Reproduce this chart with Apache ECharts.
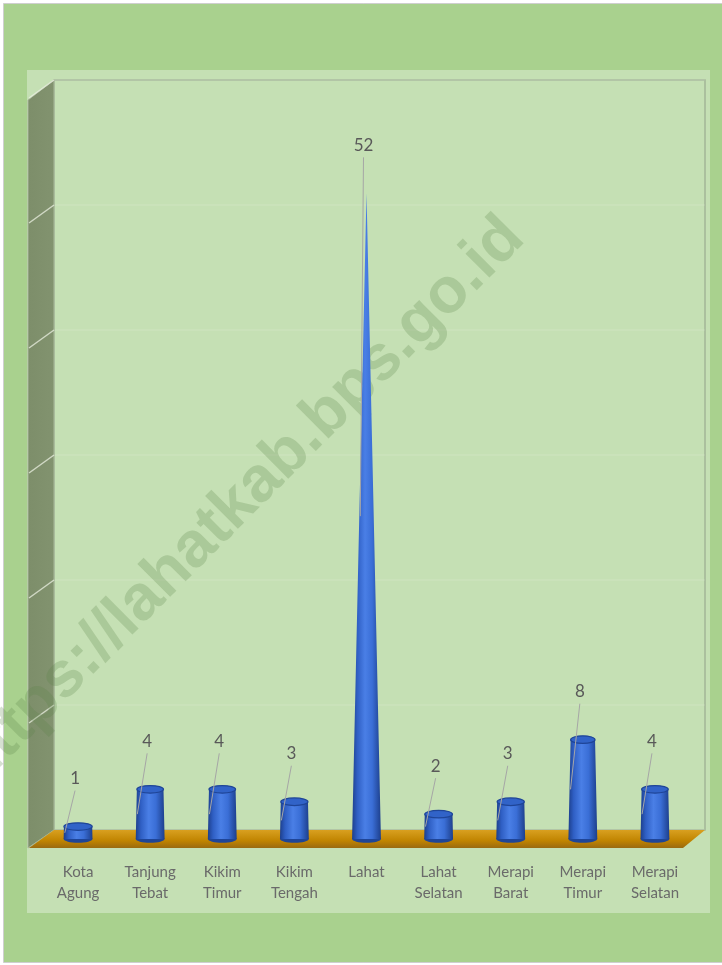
<!DOCTYPE html>
<html>
<head>
<meta charset="utf-8">
<script src="https://cdn.jsdelivr.net/npm/echarts@6/dist/echarts.min.js"></script>
<style>
html,body{margin:0;padding:0;background:#ffffff;}
#chart{width:722px;height:965px;}
</style>
</head>
<body>
<div id="chart"></div>
<script>
// ---- data ----
const categories = ['Kota\nAgung','Tanjung\nTebat','Kikim\nTimur','Kikim\nTengah','Lahat','Lahat\nSelatan','Merapi\nBarat','Merapi\nTimur','Merapi\nSelatan'];
const values = [1, 4, 4, 3, 52, 2, 3, 8, 4];
const axisMin = 0;
const axisMax = 60;
const axisInterval = 10;
const watermark = 'https://lahatkab.bps.go.id';

const coneMax = Math.max.apply(null, values);
const chart = echarts.init(document.getElementById('chart'), null, {renderer: 'canvas'});

const barGradient = {
  type: 'linear', x: 0, y: 0, x2: 1, y2: 0,
  colorStops: [
    {offset: 0, color: '#1d3f8c'},
    {offset: 0.18, color: '#2f5fc4'},
    {offset: 0.45, color: '#4a7fe6'},
    {offset: 0.7, color: '#3a6ed6'},
    {offset: 1, color: '#1d3f8c'}
  ]
};

function renderBar(params, api) {
  const idx = api.value(0);
  const v = api.value(1);
  const base = api.coord([idx, 0]);
  const top = api.coord([idx, v]);
  const band = api.size([1, 0])[0];
  const hw0 = band * 0.2;
  const hw1 = hw0 * (1 - v / coneMax);
  const ry = 3.8;
  const cx = base[0], y0 = base[1], y1 = top[1];
  const children = [];
  children.push({type: 'ellipse', shape: {cx: cx, cy: y0, rx: hw0, ry: ry}, style: {fill: '#1f4597'}, z2: 1});
  children.push({type: 'polygon', shape: {points: [[cx - hw0, y0], [cx - hw1, y1], [cx + hw1, y1], [cx + hw0, y0]]}, style: {fill: barGradient}, z2: 2});
  if (hw1 > 0.5) {
    children.push({type: 'ellipse', shape: {cx: cx, cy: y1, rx: hw1, ry: ry}, style: {fill: '#3163c8', stroke: '#1f4597', lineWidth: 1.2}, z2: 3});
  }
  const lx = cx - 3, ly = y1 - 48;
  const hwMid = hw0 * (1 - v / 2 / coneMax);
  children.push({type: 'line', shape: {x1: lx, y1: ly + 12, x2: cx - hwMid + 1, y2: (y0 + y1) / 2}, style: {stroke: '#a6a6a6', lineWidth: 1}, z2: 4});
  children.push({type: 'text', style: {text: String(v), x: lx, y: ly, align: 'center', verticalAlign: 'middle', fill: '#595959', font: '17px Lato'}, z2: 5});
  return {type: 'group', children: children};
}

const option = {
  backgroundColor: '#ffffff',
  animation: false,
  grid: [
    {left: 42, right: 31, top: 94, bottom: 126},
    {left: 54, right: 17, top: 80, bottom: 135, show: true, backgroundColor: 'transparent', borderColor: '#a3b596', borderWidth: 1.5}
  ],
  xAxis: [
    {type: 'category', gridIndex: 0, data: categories,
     axisLine: {show: false}, axisTick: {show: false},
     axisLabel: {interval: 0, color: '#6a6a6a', fontFamily: 'Lato', fontSize: 15, lineHeight: 21, margin: 23}},
    {type: 'category', gridIndex: 1, data: categories, show: false}
  ],
  yAxis: [
    {type: 'value', gridIndex: 0, min: axisMin, max: axisMax, interval: axisInterval, show: false},
    {type: 'value', gridIndex: 1, min: axisMin, max: axisMax, interval: axisInterval,
     axisLine: {show: false}, axisTick: {show: false}, axisLabel: {show: false},
     splitLine: {show: true, lineStyle: {color: 'rgba(255,255,255,0.12)', width: 1.5}}}
  ],
  graphic: [
    {id: 'outer', type: 'rect', z: -10, shape: {x: 3.5, y: 3.5, width: 720, height: 959}, style: {fill: '#a9d18e', stroke: '#cfcfcf', lineWidth: 1}},
    {id: 'inner', type: 'rect', z: -9, shape: {x: 27, y: 70, width: 683, height: 843}, style: {fill: '#c5e0b4'}},
    {id: 'wall', type: 'polygon', z: 1, shape: {points: [[28, 100], [54, 80], [54, 830], [28, 848]]},
     style: {fill: {type: 'linear', x: 0, y: 0, x2: 1, y2: 0, colorStops: [{offset: 0, color: '#7d8e6a'}, {offset: 1, color: '#82936f'}]}, stroke: '#a8b89a', lineWidth: 1}},
    {id: 'floor', type: 'polygon', z: 1, shape: {points: [[54, 830], [705, 830], [683, 848], [29, 848]]},
     style: {fill: {type: 'linear', x: 0, y: 0, x2: 0, y2: 1, colorStops: [{offset: 0, color: '#d9a020'}, {offset: 0.6, color: '#c08400'}, {offset: 1, color: '#9a6a10'}]}}},
    {id: 'wm', type: 'text', z: 3, x: 240, y: 502, rotation: Math.PI / 4,
     style: {text: watermark, font: 'bold 64px "Liberation Sans", Arial', fill: 'rgba(90,130,70,0.25)', align: 'center', verticalAlign: 'middle'}}
  ],
  series: [
    {type: 'custom', xAxisIndex: 0, yAxisIndex: 0, z: 5, renderItem: renderBar,
     data: values.map(function (v, i) { return [i, v]; })}
  ]
};
chart.setOption(option);

// gridlines on the side wall, placed from the back-wall axis
const wallLines = [];
for (let t = axisMin + axisInterval; t <= axisMax; t += axisInterval) {
  const yb = chart.convertToPixel({yAxisIndex: 1}, t);
  wallLines.push({id: 'wl' + t, type: 'line', z: 2, shape: {x1: 54, y1: yb, x2: 29, y2: yb + 18}, style: {stroke: 'rgba(235,240,225,0.75)', lineWidth: 1.5}});
}
chart.setOption({graphic: wallLines});
</script>
</body>
</html>
